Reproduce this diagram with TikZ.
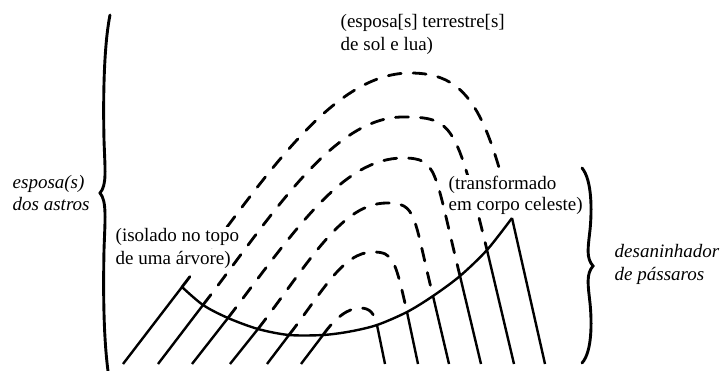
\documentclass[tikz,border=0pt]{standalone}
\usepackage{fontspec}
\setmainfont{Liberation Serif}

\tikzset{
  legline/.style={line width=2.4pt},
  dashline/.style={line width=2.8pt, line cap=round, dash pattern=on 13pt off 12pt},
  lbl/.style={font=\fontsize{19}{23}\selectfont, anchor=base west, inner xsep=0.5pt, inner ysep=2pt, fill=white},
  lblit/.style={lbl, font=\fontsize{19}{23}\selectfont\itshape},
  bracestroke/.style={line width=2.9pt, line cap=round}
}

\begin{document}
\begin{tikzpicture}[x=1pt,y=-1pt]
            \useasboundingbox (0,0) rectangle (722,371);

            % where the legs meet the arc
            \coordinate (l1) at (182,287);
            \coordinate (l2) at (203,305);
            \coordinate (l3) at (228,318);
            \coordinate (l4) at (258,329);
            \coordinate (l5) at (289,335);
            \coordinate (l6) at (323,335);
            \coordinate (mid) at (350,331.5);
            \coordinate (r6) at (377,325);
            \coordinate (r5) at (407,312);
            \coordinate (r4) at (433,296);
            \coordinate (r3) at (460,276);
            \coordinate (r2) at (487,250);
            \coordinate (r1) at (512,218);

            % tops of the arches
            \coordinate (t1) at (410,73);
            \coordinate (t2) at (403,117);
            \coordinate (t3) at (403,158);
            \coordinate (t4) at (387,203);
            \coordinate (t5) at (373,252);
            \coordinate (t6) at (360,308);

            % feet
            \coordinate (bl1) at (123,364);
            \coordinate (bl2) at (158,364);
            \coordinate (bl3) at (192,364);
            \coordinate (bl4) at (230,364);
            \coordinate (bl5) at (267,364);
            \coordinate (bl6) at (301,364);
            \coordinate (br1) at (545,364);
            \coordinate (br2) at (514,364);
            \coordinate (br3) at (481,364);
            \coordinate (br4) at (449,364);
            \coordinate (br5) at (418,364);
            \coordinate (br6) at (385,364);

            % dashed arches
            \draw[dashline] (l1) .. controls (261,184) and (330,73) .. (t1) .. controls (465,73) and (486,106) .. (r1);
            \draw[dashline] (l2) .. controls (273,214) and (333,117) .. (t2) .. controls (453,117) and (456,124) .. (r2);
            \draw[dashline] (l3) .. controls (295,230) and (343,158) .. (t3) .. controls (438,158) and (434,170) .. (r3);
            \draw[dashline] (l4) .. controls (310,261) and (342,203) .. (t4) .. controls (417,203) and (413,215) .. (r4);
            \draw[dashline] (l5) .. controls (323,291) and (343,252) .. (t5) .. controls (393,252) and (395,259) .. (r5);
            \draw[dashline] (l6) .. controls (335,318) and (348,308) .. (t6) .. controls (370,308) and (374,313) .. (r6);

            % labels
            \node[lbl] (earth1) at (340,28) {(esposa[s] terrestre[s]};
            \node[lbl] (earth2) at (340,51) {de sol e lua)};
            \node[lblit] (stars1) at (12,189) {esposa(s)};
            \node[lblit] (stars2) at (12,211) {dos astros};
            \node[lbl] (tree1) at (115,242) {(isolado no topo};
            \node[lbl] (tree2) at (115,265) {de uma árvore)};
            \node[lbl] (sky1) at (448,190) {(transformado};
            \node[lbl] (sky2) at (448,211) {em corpo celeste)};
            \node[lblit] (nest1) at (614,257) {desaninhador};
            \node[lblit] (nest2) at (614,280) {de pássaros};

            % arc and legs
            \draw[legline] plot[smooth] coordinates {(l1) (l2) (l3) (l4) (l5) (l6) (mid) (r6) (r5) (r4) (r3) (r2) (r1)};
            \foreach \i in {1,...,6} {
                \draw[legline] (bl\i) -- (l\i);
                \draw[legline] (br\i) -- (r\i);
            }

            % braces
            \draw[bracestroke] (110,15) .. controls (104,45) and (103,95) .. (104,140)
                .. controls (105,170) and (107,185) .. (100,193)
                .. controls (107,201) and (105,220) .. (104,250)
                .. controls (103,300) and (104,340) .. (108,371);
            \draw[bracestroke] (582,168) .. controls (592,180) and (592,210) .. (590,230)
                .. controls (588,248) and (586,258) .. (593,266)
                .. controls (586,274) and (588,285) .. (590,303)
                .. controls (592,323) and (592,352) .. (582,363);
        \end{tikzpicture}
\end{document}
